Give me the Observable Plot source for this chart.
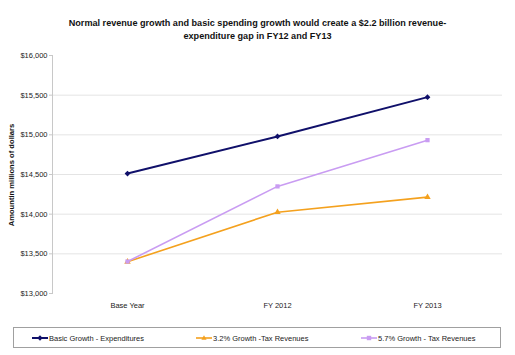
<!DOCTYPE html>
<html><head><meta charset="utf-8">
<script src="https://cdn.jsdelivr.net/npm/d3@7"></script>
<script src="https://cdn.jsdelivr.net/npm/@observablehq/plot@0.6"></script>
<style>
body{margin:0;background:#fff;font-family:"Liberation Sans",Arial,sans-serif;}
#wrap{position:relative;width:515px;height:355px;}
#title{position:absolute;left:0;top:17px;width:515px;text-align:center;font-weight:bold;font-size:9.1px;line-height:13px;color:#111;}
#chart{position:absolute;left:0;top:45px;}
#ylab{position:absolute;left:11px;top:175px;transform:translate(-50%,-50%) rotate(-90deg);font-weight:bold;font-size:7.6px;white-space:nowrap;color:#111;}
#legend{position:absolute;left:13px;top:327px;width:488px;height:21px;border:1px solid #a0a0a0;box-sizing:border-box;font-size:7.5px;color:#222;}
.item{position:absolute;top:5px;display:flex;align-items:center;white-space:nowrap;}
.item svg{margin-right:1px;}
</style></head>
<body><div id="wrap">
<div id="title">Normal revenue growth and basic spending growth would create a $2.2 billion revenue-<br>expenditure gap in FY12 and FY13</div>
<div id="chart"></div>
<div id="ylab">Amountin millions of dollars</div>
<div id="legend"></div>
</div>
<script>
const categories = ["Base Year", "FY 2012", "FY 2013"];
const seriesNames = ["Basic Growth - Expenditures", "3.2% Growth -Tax Revenues", "5.7% Growth - Tax Revenues"];
const expenditures = [14512, 14980, 15475];
const growth32 = [13400, 14025, 14215];
const growth57 = [13403, 14350, 14933];
const yTicks = [13000, 13500, 14000, 14500, 15000, 15500, 16000];
const colors = ["#10106a", "#f4a11e", "#c99cf2"];
const symbols = ["diamond2", "triangle", "square"];
const widths = [2, 1.6, 1.6];

const allSeries = [expenditures, growth32, growth57];
const data = [];
allSeries.forEach((vals, si) => vals.forEach((v, i) => data.push({series: seriesNames[si], cat: categories[i], value: v})));

const fmt = d => "$" + d3.format(",")(d);

const marks = [
  Plot.ruleY(yTicks.slice(1, -1), {stroke: "#e4e4e4", strokeWidth: 1}),
  Plot.frame({anchor: "left", stroke: "#c8c8c8"}),
  Plot.axisY({ticks: yTicks, tickFormat: fmt, tickSize: 3, tickPadding: 2, stroke: "#c8c8c8", fontSize: 7.5, label: null, color: "#222"}),
  Plot.axisX({tickSize: 0, tickPadding: 9, fontSize: 7.5, label: null, color: "#222"})
];
seriesNames.forEach((s, si) => {
  const d = data.filter(r => r.series === s);
  marks.push(Plot.line(d, {x: "cat", y: "value", stroke: colors[si], strokeWidth: widths[si]}));
  marks.push(Plot.dot(d, {x: "cat", y: "value", fill: colors[si], stroke: "none", symbol: symbols[si], r: si === 0 ? 2.6 : 2.4}));
});

const chart = Plot.plot({
  width: 515, height: 265,
  marginLeft: 52, marginRight: 13, marginTop: 10, marginBottom: 17,
  style: {fontFamily: "Liberation Sans, Arial, sans-serif", color: "#222"},
  x: {type: "point", domain: categories, padding: 0.5},
  y: {domain: [13000, 16000]},
  marks
});
document.getElementById("chart").appendChild(chart);

const legend = document.getElementById("legend");
const lefts = [18, 182, 347];
seriesNames.forEach((s, si) => {
  const it = document.createElement("div");
  it.className = "item";
  it.style.left = lefts[si] + "px";
  const sym = si === 0 ? '<path d="M8 2.3 L10.7 5 L8 7.7 L5.3 5Z" fill="'+colors[si]+'"/>' :
              si === 1 ? '<path d="M8 2.3 L10.6 6.8 L5.4 6.8Z" fill="'+colors[si]+'"/>' :
              '<rect x="5.8" y="2.8" width="4.4" height="4.4" fill="'+colors[si]+'"/>';
  it.innerHTML = '<svg width="16" height="10"><line x1="0" x2="16" y1="5" y2="5" stroke="'+colors[si]+'" stroke-width="'+widths[si]+'"/>'+sym+'</svg><span>'+s+'</span>';
  legend.appendChild(it);
});
</script>
</body></html>
